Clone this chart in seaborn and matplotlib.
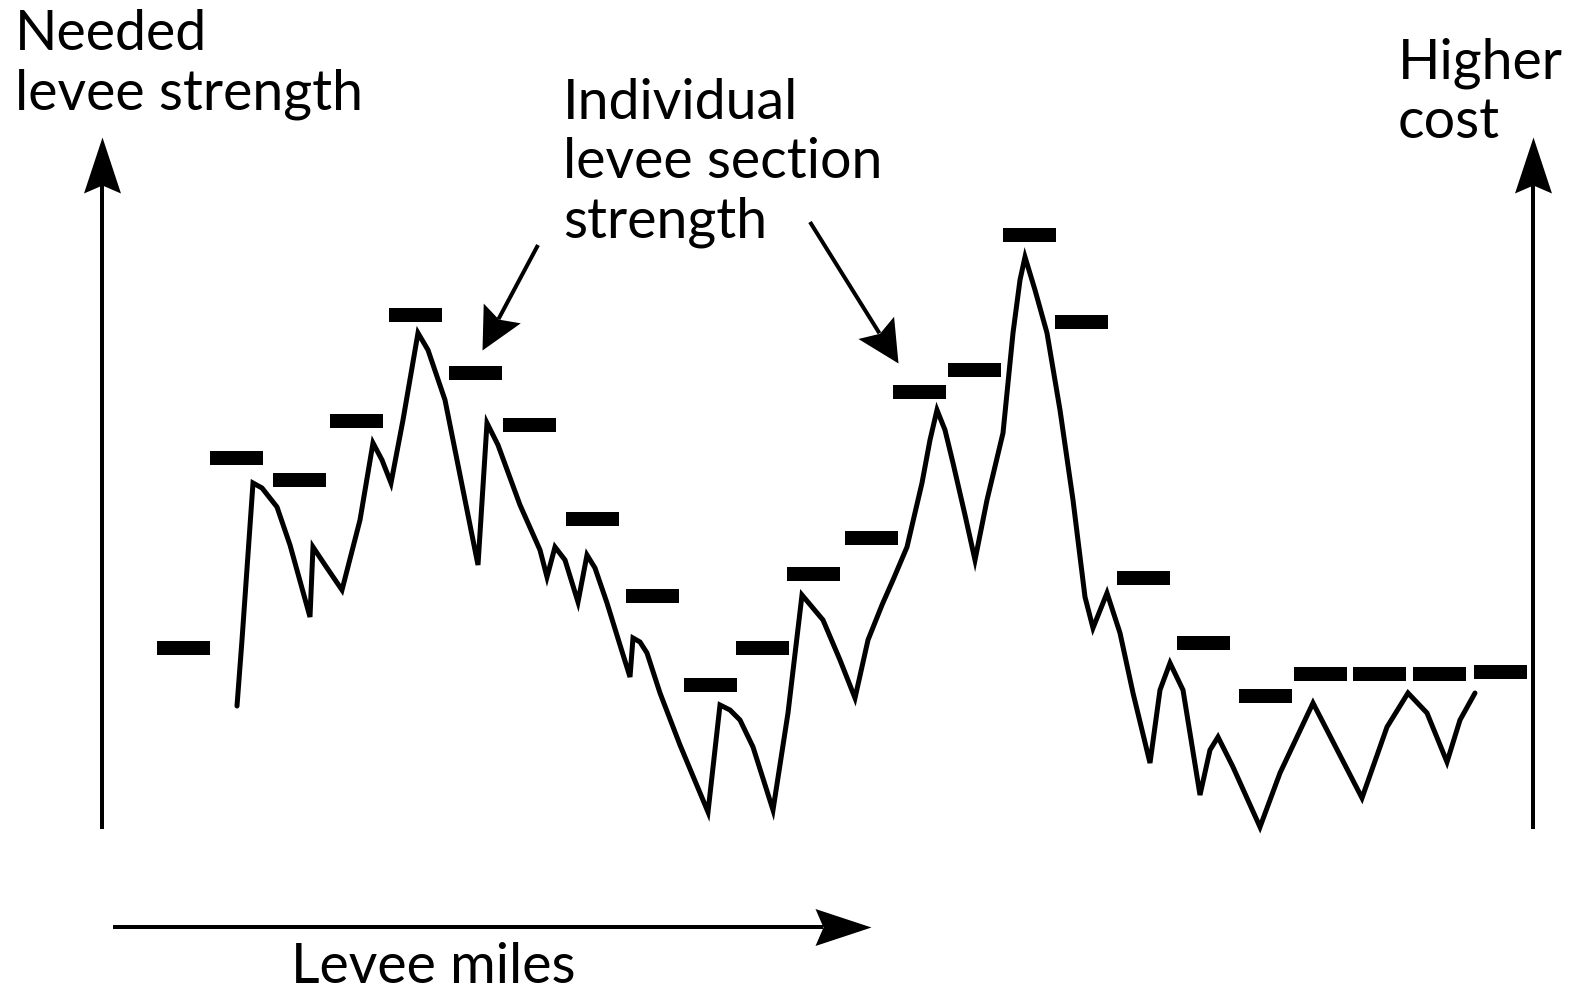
import numpy as np
import pandas as pd
import seaborn as sns
import matplotlib.pyplot as plt
from matplotlib.path import Path
from matplotlib.markers import MarkerStyle
from matplotlib.transforms import Affine2D

sns.set_theme(style="white")
plt.rcParams['font.family'] = ['Lato', 'DejaVu Sans']

# section strength of each levee section (centre mile, strength)
section_x = [184, 237, 300, 357, 416, 476, 530, 593, 653, 711, 763, 814,
             872, 920, 975, 1030, 1082, 1144, 1204, 1266, 1321, 1380, 1440, 1501]
section_strength = [344, 534, 512, 571, 677, 619, 567, 473, 396, 307, 344, 418,
                    454, 600, 622, 757, 670, 414, 349, 296, 318, 318, 318, 320]

# needed levee strength along the levee
profile_x = [237, 242, 253, 262, 277, 290, 310, 313, 325, 342, 360, 373, 382, 391,
             403, 418, 428, 445, 465, 478, 487, 498, 520, 540, 547, 555, 565, 578,
             587, 595, 607, 620, 630, 633, 640, 647, 660, 680, 708, 720, 730, 740,
             753, 773, 788, 802, 823, 840, 855, 868, 882, 893, 907, 918, 922, 930,
             937, 945, 953, 965, 975, 987, 1003, 1013, 1020, 1025, 1035, 1047, 1060,
             1073, 1085, 1093, 1107, 1120, 1133, 1150, 1160, 1170, 1183, 1200, 1210,
             1218, 1233, 1260, 1280, 1313, 1362, 1387, 1408, 1427, 1447, 1460, 1475]
profile_needed = [286, 352, 509, 504, 485, 447, 375, 445, 427, 402, 472, 549, 532, 509,
                  572, 659, 642, 592, 492, 427, 569, 547, 487, 442, 415, 445, 432, 390,
                  437, 424, 389, 347, 315, 354, 350, 339, 299, 247, 180, 287, 282, 272,
                  245, 182, 279, 397, 372, 332, 294, 352, 387, 412, 445, 492, 509, 552,
                  582, 562, 529, 477, 432, 492, 559, 659, 712, 735, 702, 659, 582,
                  492, 395, 364, 399, 359, 299, 229, 302, 329, 302, 197, 242,
                  255, 225, 165, 219, 289, 194, 265, 299, 279, 230, 272, 299]

W, H = 1576, 992
PX = 72 / 100  # points per pixel

fig = plt.figure(figsize=(W / 100, H / 100), dpi=100)
ax = fig.add_axes([0, 0, 1, 1])
ax.set_xlim(0, W)
ax.set_ylim(0, H)
ax.axis('off')

profile = pd.DataFrame({'mile': profile_x, 'needed': profile_needed})
sns.lineplot(data=profile, x='mile', y='needed', color='black', lw=5 * PX,
             sort=False, errorbar=None, solid_joinstyle='miter', ax=ax)

sx = np.array(section_x)
ax.hlines(section_strength, sx - 26.5, sx + 26.5, colors='black',
          lw=14 * PX, capstyle='butt')


def stealth(L, Wd, notch):
    verts = [(0, 0), (-L, Wd), (-L + notch, 0), (-L, -Wd), (0, 0)]
    codes = [Path.MOVETO, Path.LINETO, Path.LINETO, Path.LINETO, Path.CLOSEPOLY]
    return Path(verts, codes)


def arrow(x0, y0, x1, y1, L, Wd, notch):
    ang = np.degrees(np.arctan2(y1 - y0, x1 - x0))
    u = np.array([x1 - x0, y1 - y0], dtype=float)
    u /= np.hypot(*u)
    ex, ey = np.array([x1, y1]) - u * (L - notch)
    ax.plot([x0, ex], [y0, ey], color='black', lw=4 * PX, solid_capstyle='butt')
    m = MarkerStyle(stealth(L, Wd, notch), transform=Affine2D().rotate_deg(ang))
    ax.plot([x1], [y1], marker=m, markersize=2 * L * PX, color='black',
            markeredgewidth=0)


# axis arrows
arrow(102, 163, 102, 855, 56, 18.5, 8)
arrow(1533, 163, 1533, 855, 56, 18.5, 8)
arrow(113, 65, 871, 65, 56, 18.5, 8)
# pointer arrows
arrow(538, 747, 482, 642, 42, 21, 7)
arrow(810, 770, 898, 629, 42, 21, 7)

# va='baseline' anchors the last line of each block
txt = dict(fontsize=40, color='black', ha='left', va='baseline', linespacing=1.2)
ax.text(15, 883, 'Needed\nlevee strength', **txt)
ax.text(563, 755, 'Individual\nlevee section\nstrength', **txt)
ax.text(1398, 854, 'Higher\ncost', **txt)
ax.text(291, 9, 'Levee miles', **txt)

fig.savefig('out.png', dpi=100)
